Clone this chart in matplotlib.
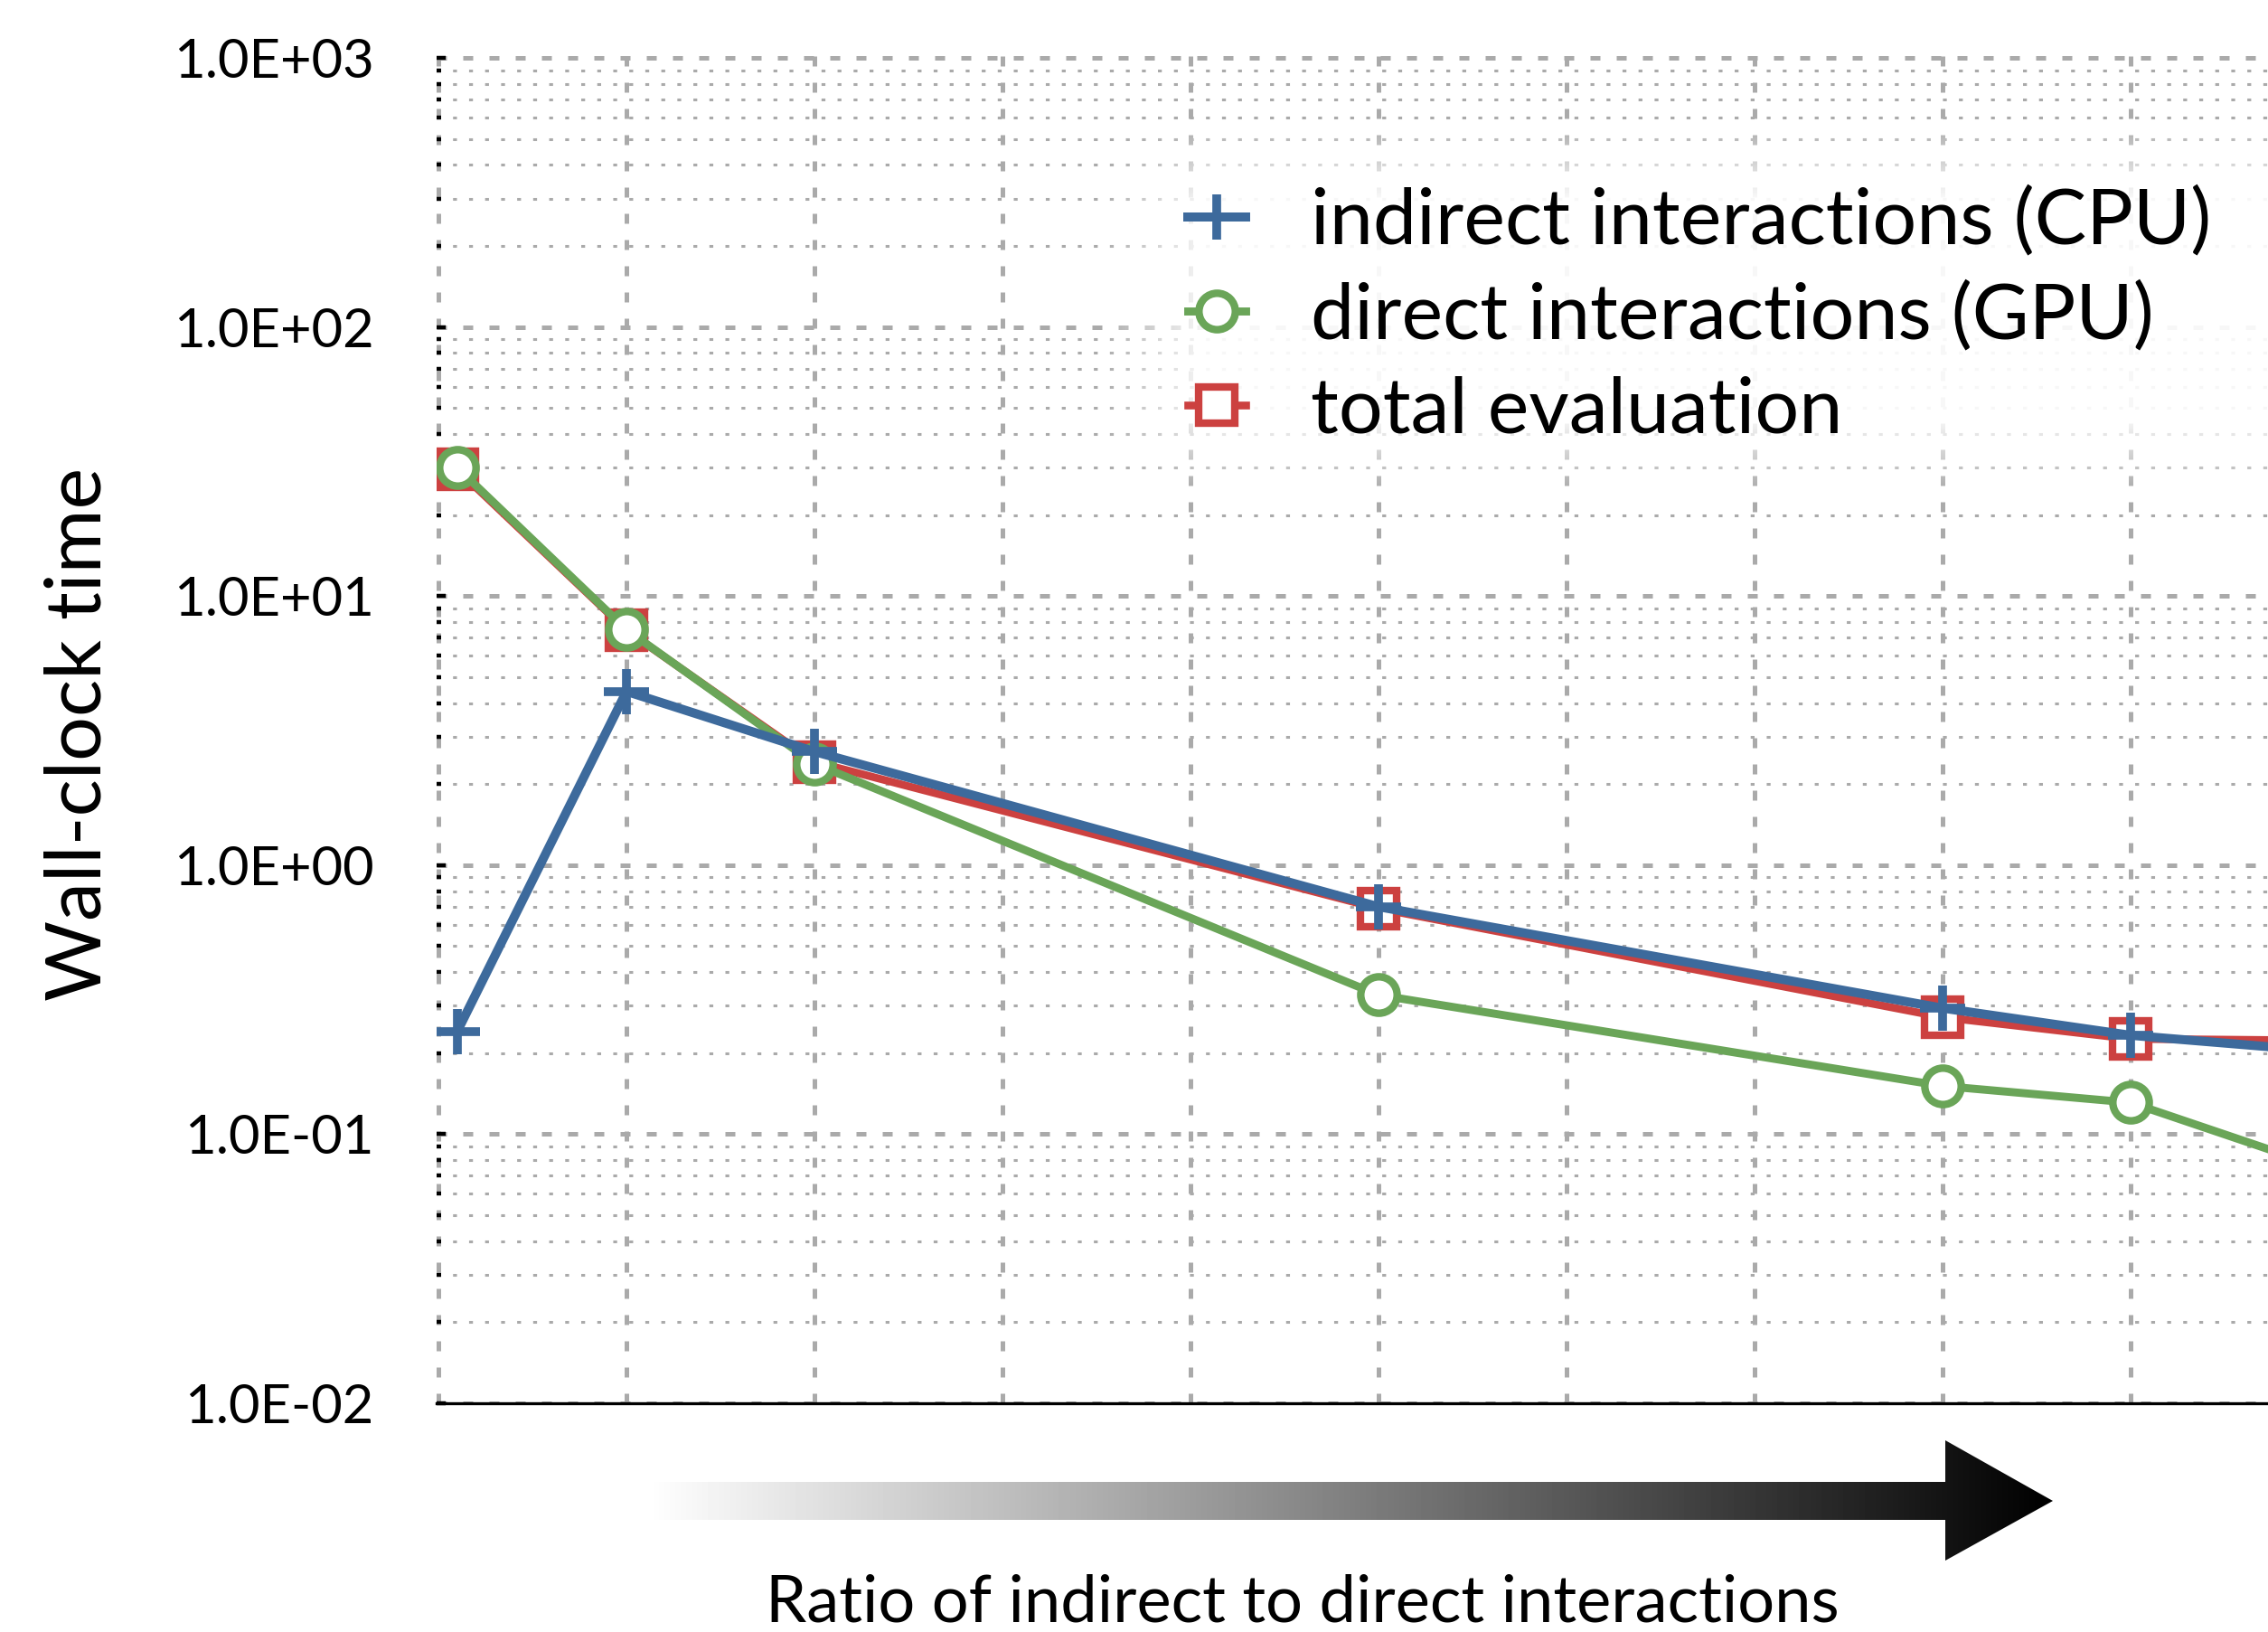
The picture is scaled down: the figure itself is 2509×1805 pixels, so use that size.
import numpy as np
import matplotlib
matplotlib.use("Agg")
import matplotlib.pyplot as plt
from matplotlib.patches import Polygon
from matplotlib.ticker import FixedLocator, LogLocator, NullFormatter, FuncFormatter

# values (x is just the position along the ratio axis)
ratio_pos = [0.1, 1, 2, 5, 8, 9, 10]
indirect_cpu = [0.241, 4.42, 2.64, 0.70, 0.294, 0.233, 0.204]
direct_gpu = [30.0, 7.5, 2.38, 0.329, 0.151, 0.131, 0.076]
total_eval = [29.5, 7.45, 2.42, 0.69, 0.272, 0.226, 0.223]
labels = ["indirect interactions (CPU)", "direct interactions (GPU)", "total evaluation"]

blue = "#3d6a9c"
green = "#6aa558"
red = "#cc4140"
grey = "#aaaaaa"

plt.rcParams["font.family"] = ["Lato", "DejaVu Sans"]

W, H = 2509, 1805
fig = plt.figure(figsize=(W / 100, H / 100), dpi=100)

left, right, bottom, top = 483, 2509, 1552, 61
ax = fig.add_axes([left / W, 1 - bottom / H, (right - left) / W, (bottom - top) / H])
ax.set_yscale("log")
ax.set_xlim(-0.01, 9.73)
ax.set_ylim(1e-2, 10 ** 3.01)

# grid
ax.set_axisbelow(True)
ax.xaxis.set_major_locator(FixedLocator(range(0, 10)))
ax.yaxis.set_major_locator(LogLocator(base=10, numticks=20))
ax.yaxis.set_minor_locator(LogLocator(base=10, subs=np.arange(2, 10), numticks=20))
ax.yaxis.set_minor_formatter(NullFormatter())
ax.yaxis.set_major_formatter(FuncFormatter(lambda v, p: f"{v:.1E}"))
ax.grid(True, axis="y", which="major", color=grey, lw=3.6, ls=(0, (2.2, 3.6)))
ax.grid(True, axis="y", which="minor", color=grey, lw=2.2, ls=(0, (1.4, 4.4)))
ax.grid(True, axis="x", which="major", color=grey, lw=3.6, ls=(0, (2.2, 3.6)))

ax.tick_params(axis="x", length=0, labelbottom=False)
ax.tick_params(axis="y", which="major", direction="in", length=7, width=3.2,
               color="black", labelsize=43, pad=50)
ax.tick_params(axis="y", which="minor", direction="in", length=3.6, width=3.2, color="black")
for s in ["left", "top", "right"]:
    ax.spines[s].set_visible(False)
ax.spines["bottom"].set_linewidth(2.4)
ax.spines["bottom"].set_color("black")

# soft white box behind the legend
gx = np.linspace(0, 1, 400)
gy = np.linspace(0, 1, 200)
X, Y = np.meshgrid(gx, gy)
fade_x = np.clip(X / 0.09, 0, 1)
fade_y = np.clip(Y / 0.2, 0, 1) * np.clip((1 - Y) / 0.2, 0, 1)
rgba = np.ones((200, 400, 4))
rgba[..., 3] = 0.92 * fade_x * fade_y
x0 = (1215 - left) / (right - left)
y0 = (bottom - 545) / (bottom - top)
y1 = (bottom - 135) / (bottom - top)
ax.imshow(rgba, extent=(x0, 1.0, y0, y1), transform=ax.transAxes,
          aspect="auto", zorder=1, interpolation="bilinear")
ax.set_xlim(-0.01, 9.73)
ax.set_ylim(1e-2, 10 ** 3.01)

l_tot, = ax.plot(ratio_pos, total_eval, color=red, lw=6.2, marker="s", ms=29,
                 mew=6, mfc="white", mec=red, zorder=3)
l_dir, = ax.plot(ratio_pos, direct_gpu, color=green, lw=6.4, marker="o", ms=29,
                 mew=6, mfc="white", mec=green, zorder=4)
l_ind, = ax.plot(ratio_pos, indirect_cpu, color=blue, lw=7.2, marker="+", ms=36,
                 mew=7, zorder=5)

leg = ax.legend([l_ind, l_dir, l_tot], labels, loc="upper left",
                bbox_to_anchor=(1314 / W, 1 - 206 / H), bbox_transform=fig.transFigure,
                frameon=False, fontsize=62, handlelength=0.74, handletextpad=0.84,
                labelspacing=0.3, borderpad=0, borderaxespad=0)
leg.set_zorder(10)

# axis titles
fig.text(88 / W, 1 - 812 / H, "Wall-clock time", rotation=90, fontsize=62,
         ha="center", va="center")
fig.text(1441 / W, 1 - 1773 / H, "Ratio of indirect to direct interactions",
         fontsize=52, ha="center", va="center")

# gradient arrow under the axis
ov = fig.add_axes([0, 0, 1, 1], zorder=-1)
ov.set_xlim(0, W)
ov.set_ylim(H, 0)
ov.axis("off")
arrow = Polygon([(715, 1639), (2152, 1639), (2152, 1593), (2271, 1660),
                 (2152, 1726), (2152, 1681), (715, 1681)], closed=True,
                facecolor="none", edgecolor="none")
ov.add_patch(arrow)
grad = np.linspace(1, 0, 512).reshape(1, -1)
img = ov.imshow(grad, extent=(715, 2271, 1726, 1593), cmap="gray", vmin=0, vmax=1,
                aspect="auto", interpolation="bilinear")
img.set_clip_path(arrow)
ov.set_xlim(0, W)
ov.set_ylim(H, 0)

fig.savefig("out.png", dpi=100)
